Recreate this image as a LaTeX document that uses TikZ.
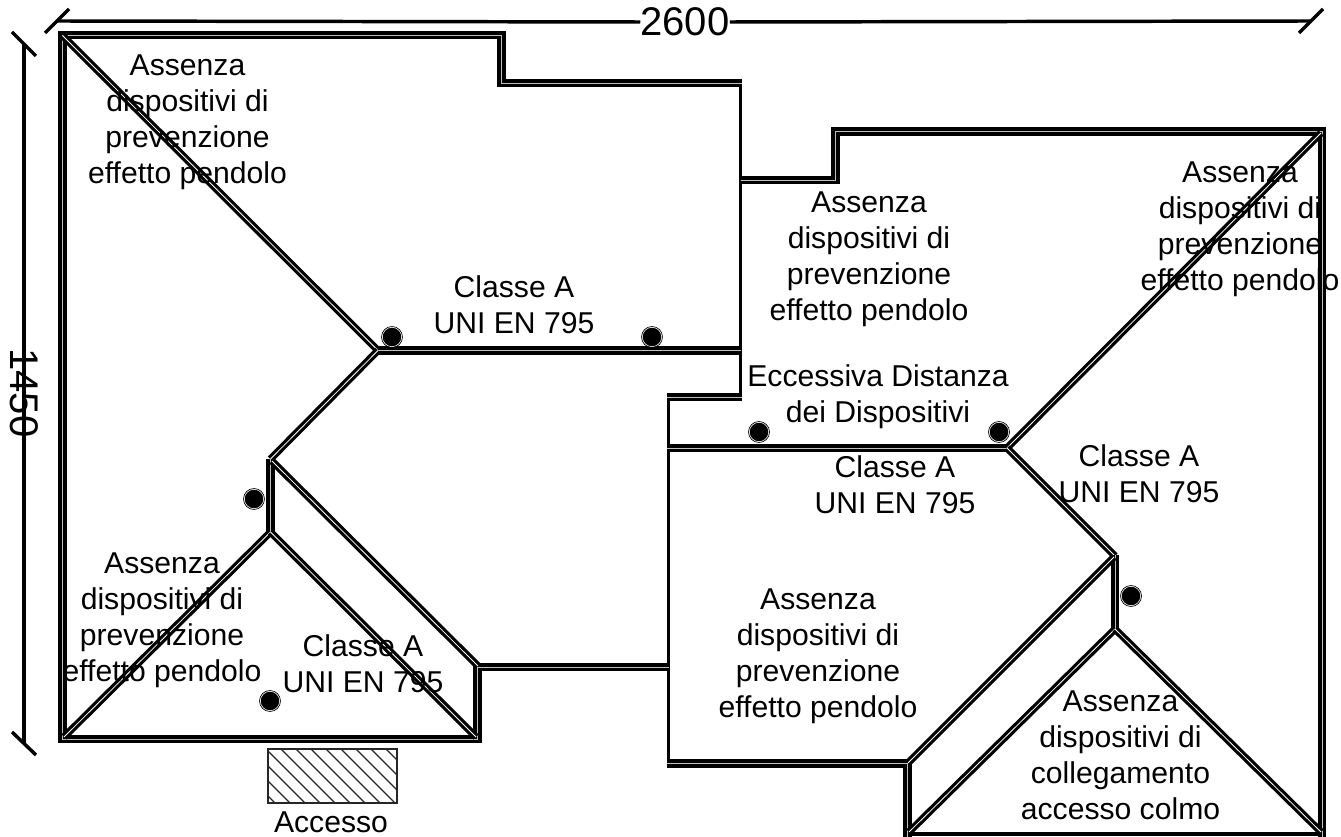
\documentclass[tikz,border=0pt]{standalone}
\usepackage{fontspec}
\setmainfont{Liberation Sans}
\begin{document}
\begin{tikzpicture}[x=0.75pt,y=-0.75pt,
  wall/.style={draw=black,line width=2.75pt,double=black!25,double distance=0.6pt,line join=miter,line cap=butt},
  hip/.style={draw=black,line width=2.4pt,double=white,double distance=0.6pt,line join=miter,line cap=butt},
  thinwall/.style={draw=black,line width=2.8pt,line cap=butt},
  dimline/.style={draw=black,line width=2.6pt,line cap=butt},
  lab/.style={align=center,inner sep=0pt,font=\fontsize{22.6}{27}\selectfont},
  dimlab/.style={inner sep=0pt,font=\fontsize{30}{32}\selectfont},
  dev/.style={circle,fill=black,draw=white,line width=0.5pt,minimum size=14.6pt,inner sep=0pt},
  devring/.style={draw=black,line width=0.5pt},
  hatchline/.style={draw=black!85,line width=0.95pt}]
\useasboundingbox (0,0) rectangle (1341,837);
\fill[white] (0,0) rectangle (1341,837);
% single-line walls
\draw[thinwall] (740.5,83) -- (740.5,397);
\draw[thinwall] (668.5,397) -- (668.5,765);
\draw[thinwall] (905,834) -- (1322,834);
% roof outline
\draw[wall] (668.5,667) -- (477.5,667) -- (477.5,739) -- (62.5,739) -- (62.5,35) -- (501.5,35) -- (501.5,83) -- (742,83);
\draw[wall] (740.5,180) -- (835.5,180) -- (835.5,131.5) -- (1322,131.5) -- (1322,837);
\draw[wall] (742,397) -- (667,397);
\draw[wall] (667,763.5) -- (907.5,763.5) -- (907.5,837);
% ridges and hips, left
\draw[hip] (63,36) -- (378,350.5);
\draw[wall] (378,350.5) -- (740.5,350.5);
\draw[hip] (378,350.5) -- (270.5,459);
\draw[wall] (270.5,459) -- (270.5,532);
\draw[hip] (270.5,532) -- (64,737);
\draw[hip] (270.5,532) -- (476,737);
\draw[hip] (272,461) -- (478,666);
% ridges and hips, right
\draw[wall] (667,448) -- (1007,448);
\draw[hip] (1007,448) -- (1321,133);
\draw[hip] (1007,448) -- (1115,556);
\draw[wall] (1115,555) -- (1115,629);
\draw[hip] (1115,629) -- (909,832);
\draw[hip] (1114,557) -- (908,763);
\draw[hip] (1115,629) -- (1321,832);
% anchor devices
\foreach \n/\p in {d1/{392,337},d2/{652,337},d3/{254,499},d4/{270,701},d5/{759,432},d6/{999,432},d7/{1131,596}}{
  \node[dev] (\n) at (\p) {};
  \draw[devring] (\n.center) circle (10.5);
}
% access
\begin{scope}
  \clip (268,749) rectangle (397,803);
  \foreach \k in {-47,-32,...,400}{
    \draw[hatchline] (268+\k,749) -- (268+\k+54,803);
  }
\end{scope}
\draw[black!85,line width=0.95pt] (268,749) rectangle (397,803);
\node[lab] (acc) at (331,822) {Accesso};
% dimensions
\node[dimlab] (w) at (685,22) {2600};
\node[dimlab,rotate=-90] (h) at (24,393) {1450};
\coordinate (wl) at (57,21);
\coordinate (wr) at (1311,21);
\coordinate (ht) at (24,44);
\coordinate (hb) at (24,744);
\draw[dimline] (wl) -- (w.west);
\draw[dimline] (w.east) -- (wr);
\draw[dimline] (ht) -- (h.east);
\draw[dimline] (h.west) -- (hb);
\draw[dimline] (45,33) -- (69,9);
\draw[dimline] (1299,33) -- (1323,9);
\draw[dimline] (12,32) -- (36,56);
\draw[dimline] (12,732) -- (36,755);
% labels
\node[lab] (t1) at (187.5,122.5) {Assenza\\dispositivi di\\prevenzione\\effetto pendolo};
\node[lab] (t2) at (869,259) {Assenza\\dispositivi di\\prevenzione\\effetto pendolo};
\node[lab] (t3) at (878,397) {Eccessiva Distanza\\dei Dispositivi};
\node[lab] (t4) at (514,305) {Classe A\\UNI EN 795};
\node[lab] (t5) at (1240,229.5) {Assenza\\dispositivi di\\prevenzione\\effetto pendolo};
\node[lab] (t6) at (895,485) {Classe A\\UNI EN 795};
\node[lab] (t7) at (1139,474) {Classe A\\UNI EN 795};
\node[lab] (t8) at (818,656) {Assenza\\dispositivi di\\prevenzione\\effetto pendolo};
\node[lab] (t9) at (162,620.5) {Assenza\\dispositivi di\\prevenzione\\effetto pendolo};
\node[lab] (t10) at (363,664) {Classe A\\UNI EN 795};
\node[lab] (t11) at (1120.5,755) {Assenza\\dispositivi di\\collegamento\\accesso colmo};
\end{tikzpicture}
\end{document}
